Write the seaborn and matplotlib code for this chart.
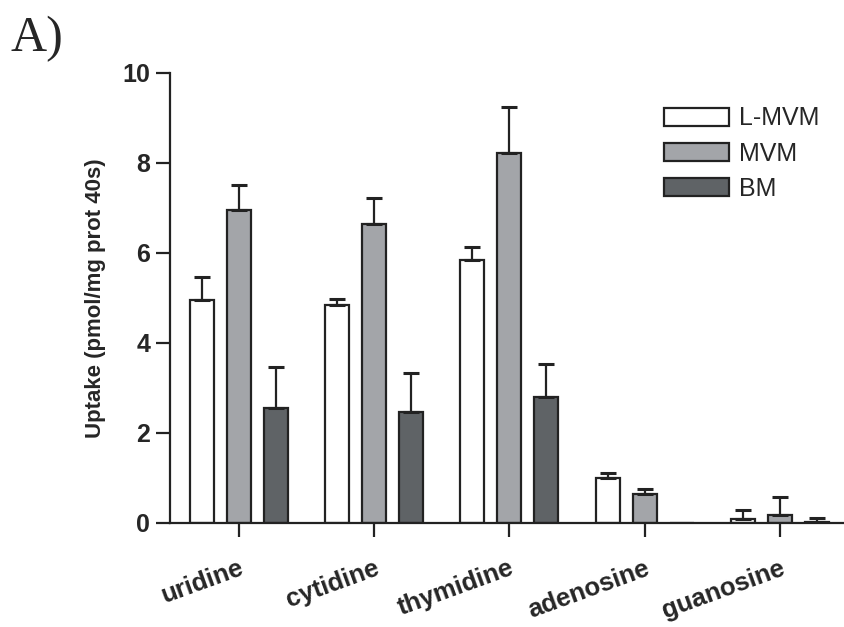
import seaborn as sns
import matplotlib.pyplot as plt
import pandas as pd

sns.set_style('ticks')
plt.rcParams['font.family'] = ['Liberation Sans', 'DejaVu Sans']

nucleosides = ['uridine', 'cytidine', 'thymidine', 'adenosine', 'guanosine']
membranes = ['L-MVM', 'MVM', 'BM']
lmvm = [4.95, 4.83, 5.85, 1.00, 0.09]
mvm = [6.95, 6.65, 8.22, 0.64, 0.18]
bm = [2.55, 2.47, 2.80, 0.00, 0.02]
lmvm_err = [0.52, 0.14, 0.27, 0.11, 0.20]
mvm_err = [0.55, 0.57, 1.01, 0.12, 0.40]
bm_err = [0.92, 0.85, 0.72, 0.00, 0.09]
colors = ['#ffffff', '#a2a5aa', '#5e6367']

df = pd.DataFrame({
    'nucleoside': nucleosides * 3,
    'membrane': [m for m in membranes for _ in nucleosides],
    'uptake': lmvm + mvm + bm,
})
errs = {'L-MVM': lmvm_err, 'MVM': mvm_err, 'BM': bm_err}

fig = plt.figure(figsize=(8.44, 6.27), dpi=100)
ax = fig.add_axes([0.201, 0.166, 0.80, 0.718])
sns.barplot(data=df, x='nucleoside', y='uptake', hue='membrane', order=nucleosides,
            hue_order=membranes, palette=colors, width=0.82, gap=0.35,
            edgecolor='#222222', linewidth=1.6, errorbar=None, ax=ax)

# upper-only error bars on each bar
for cont, m in zip(ax.containers, membranes):
    for bar, e in zip(cont, errs[m]):
        if e <= 0:
            continue
        xc = bar.get_x() + bar.get_width() / 2
        ax.errorbar(xc, bar.get_height(), yerr=[[0], [e]], fmt='none',
                    ecolor='#222222', elinewidth=1.6, capsize=6, capthick=2.2)

ax.set_ylim(0, 10)
ax.set_xlim(-0.51, 4.48)
ax.set_yticks([0, 2, 4, 6, 8, 10])
sns.despine(ax=ax)
for s in ['left', 'bottom']:
    ax.spines[s].set_linewidth(1.6)
    ax.spines[s].set_color('#222222')
ax.tick_params(axis='both', length=10, width=1.6, color='#222222')
ax.tick_params(axis='y', labelsize=18, pad=4)
ax.tick_params(axis='x', pad=14)
for t in ax.get_yticklabels():
    t.set_fontweight('bold')
ax.set_xticks(range(len(nucleosides)))
ax.set_xticklabels(nucleosides, rotation=20, ha='right', rotation_mode='anchor',
                   fontsize=18.5, fontweight='bold')
ax.set_xlabel('')
ax.set_ylabel('Uptake (pmol/mg prot 40s)', fontsize=16, fontweight='bold', labelpad=12)

ax.legend(loc='upper right', bbox_to_anchor=(0.995, 0.975), frameon=False, fontsize=18,
          handlelength=2.6, handleheight=0.75, labelspacing=0.45, handletextpad=0.4)

fig.text(0.012, 0.975, 'A)', fontsize=36, va='top', ha='left', family='Liberation Serif')

fig.savefig('out.png', dpi=100)
